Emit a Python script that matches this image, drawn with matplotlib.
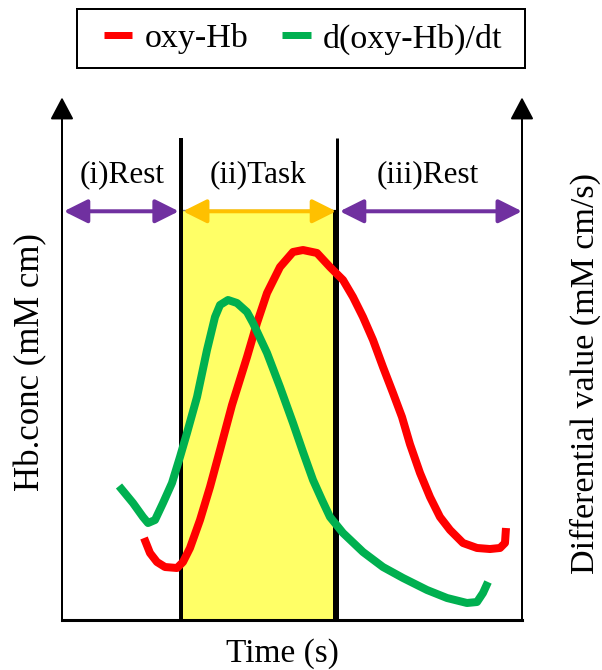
import matplotlib
matplotlib.use("Agg")
import matplotlib.pyplot as plt
from matplotlib.lines import Line2D
from matplotlib.patches import Rectangle

# ---- data (time in arbitrary units 0..100, values in arbitrary units 0..100) ----
oxy_t = [17.83, 19.13, 20.65, 22.39, 25.00, 26.30, 27.83, 30.00, 32.17, 34.35, 36.96,
         40.22, 42.39, 44.57, 47.39, 50.22, 52.39, 55.43, 58.26, 61.09, 63.26, 65.43,
         67.61, 69.78, 71.96, 73.91, 75.65, 77.83, 80.00, 82.17, 84.35, 87.17, 90.22,
         93.04, 95.22, 96.30, 96.52]
oxy_v = [15.77, 12.88, 11.15, 10.19, 10.00, 11.15, 13.85, 19.23, 25.58, 32.69, 41.35,
         50.58, 57.12, 62.88, 67.88, 70.77, 71.15, 70.58, 67.88, 65.38, 62.12, 58.27,
         53.85, 48.65, 43.65, 39.04, 33.80, 28.27, 23.65, 19.81, 17.31, 14.81, 13.85,
         13.65, 13.85, 14.81, 17.69]

deriv_t = [12.39, 15.43, 17.61, 18.70, 20.22, 21.96, 23.91, 25.65, 27.17, 29.35, 31.52,
           33.26, 34.35, 36.09, 38.04, 40.22, 41.52, 44.57, 47.39, 50.22, 52.39, 54.57,
           56.52, 58.26, 61.09, 65.43, 69.78, 74.13, 79.35, 83.70, 88.04, 90.22, 91.52,
           92.61]
deriv_v = [25.77, 22.50, 19.81, 18.65, 19.23, 22.50, 26.35, 31.35, 35.96, 42.88, 51.92,
           58.27, 60.58, 61.54, 60.96, 59.23, 57.12, 51.35, 44.81, 37.88, 32.31, 26.92,
           23.08, 19.81, 16.73, 13.08, 10.19, 8.08, 5.77, 4.23, 3.27, 3.46, 5.19, 7.31]

task_start, task_end = 25.9, 59.6
phase_labels = ["(i)Rest", "(ii)Task", "(iii)Rest"]
phase_centers = [13.0, 42.6, 79.6]
series_names = ["oxy-Hb", "d(oxy-Hb)/dt"]

RED = "#FF0000"
GREEN = "#00B050"
PURPLE = "#7030A0"
ORANGE = "#FFC000"
YELLOW = "#FFFF66"

plt.rcParams["font.family"] = ["Liberation Serif", "DejaVu Serif"]

W, H = 602, 670
fig = plt.figure(figsize=(W / 100, H / 100), dpi=100)
ax = fig.add_axes([62 / W, (H - 620) / H, 460 / W, 520 / H])
ax.set_xlim(0, 100)
ax.set_ylim(0, 100)
ax.set_xticks([])
ax.set_yticks([])
for s in ["top", "left", "right"]:
    ax.spines[s].set_visible(False)
ax.spines["bottom"].set_linewidth(2.2)
ax.patch.set_alpha(0)

px = 0.72  # points per pixel

# task box
ax.add_patch(Rectangle((task_start, 0), task_end - task_start, 78.8,
                       facecolor=YELLOW, edgecolor="#808080", lw=1.0, zorder=1))
ax.plot([task_start, task_start], [0, 92.7], color="black", lw=4 * px, zorder=3,
        solid_capstyle="butt")
ax.plot([task_end + 0.2, task_end + 0.2], [0, 92.7], color="black", lw=3 * px, zorder=3,
        solid_capstyle="butt")
ax.plot([task_end, task_end], [0, 78.8], color="black", lw=6 * px, zorder=3,
        solid_capstyle="butt")

# vertical axes with arrows
for xa in [0, 100]:
    ax.annotate("", xy=(xa, 100.5), xytext=(xa, -0.2),
                arrowprops=dict(arrowstyle="-|>,head_length=0.68,head_width=0.36",
                                mutation_scale=20, lw=2 * px, color="black",
                                shrinkA=0, shrinkB=0),
                annotation_clip=False, zorder=4)

# phase arrows
arrow_y = 78.6
spans = [(0.4, 25.4, PURPLE), (26.3, 59.6, ORANGE), (60.4, 100.0, PURPLE)]
for x0, x1, c in spans:
    ax.annotate("", xy=(x1, arrow_y), xytext=(x0, arrow_y),
                arrowprops=dict(arrowstyle="<|-|>,head_length=0.72,head_width=0.36",
                                mutation_scale=20, lw=4 * px, color=c,
                                shrinkA=0, shrinkB=0),
                annotation_clip=False, zorder=5)

for lab, xc in zip(phase_labels, phase_centers):
    ax.text(xc, 85.6, lab, ha="center", va="center", fontsize=22.5, zorder=6)

# curves
ax.plot(oxy_t, oxy_v, color=RED, lw=8 * px, solid_capstyle="butt",
        solid_joinstyle="round", zorder=7)
ax.plot(deriv_t, deriv_v, color=GREEN, lw=8 * px, solid_capstyle="butt",
        solid_joinstyle="round", zorder=8)

# axis labels
fig.text(31 / W, 1 - 362 / H, "Hb.conc (mM cm)", rotation=90, ha="center",
         va="center", fontsize=25)
fig.text(585 / W, 1 - 373 / H, "Differential value (mM cm/s)", rotation=90,
         ha="center", va="center", fontsize=24.5)
fig.text(282 / W, 1 - 654 / H, "Time (s)", ha="center", va="center", fontsize=24)

# legend
handles = [Line2D([], [], color=RED, lw=7 * px, solid_capstyle="butt"),
           Line2D([], [], color=GREEN, lw=7 * px, solid_capstyle="butt")]
leg = fig.legend(handles, series_names, loc="center", bbox_to_anchor=(303 / W, 1 - 39 / H),
                 ncol=2, fontsize=24.5, frameon=False,
                 handlelength=0.85, handletextpad=0.35, columnspacing=1.0,
                 borderpad=0.0, borderaxespad=0)
fig.add_artist(Rectangle((77 / W, 1 - 68 / H), 448 / W, 59 / H, transform=fig.transFigure,
                         facecolor="none", edgecolor="black", lw=2 * px))

fig.savefig("out.png", dpi=100)
